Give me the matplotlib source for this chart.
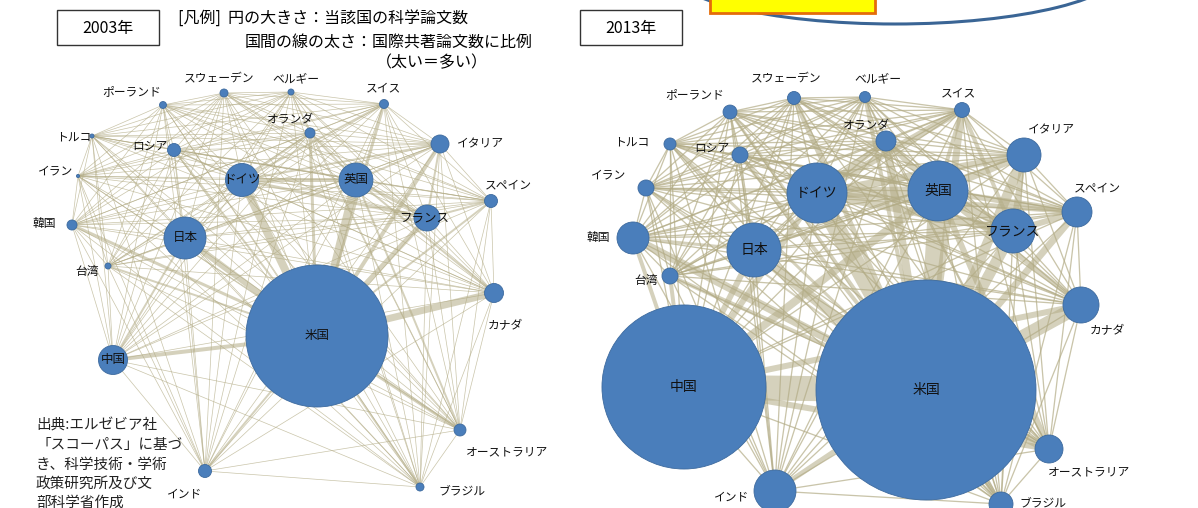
import itertools
import matplotlib.pyplot as plt
from matplotlib.patches import Circle, Ellipse, Rectangle

plt.rcParams['font.family'] = ['Noto Sans CJK JP', 'DejaVu Sans']

# countries in the network
countries = ['ポーランド', 'スウェーデン', 'ベルギー', 'スイス', 'オランダ', 'トルコ',
             'ロシア', 'イタリア', 'イラン', 'ドイツ', '英国', 'スペイン', 'フランス',
             '韓国', '日本', '台湾', 'カナダ', '米国', '中国', 'オーストラリア',
             'インド', 'ブラジル']

# circle area index (米国 = 100)
size_2003 = [0.24, 0.32, 0.18, 0.40, 0.50, 0.08, 0.84, 1.61, 0.05, 5.4, 5.7, 0.84,
             3.35, 0.50, 8.75, 0.18, 1.79, 100, 4.17, 0.71, 0.84, 0.32]
size_2013 = [0.40, 0.35, 0.25, 0.46, 0.83, 0.30, 0.53, 2.39, 0.53, 7.44, 7.44, 1.86,
             4.0, 2.12, 6.02, 0.53, 2.68, 100, 55.6, 1.62, 3.64, 1.19]

# co-authorship line thickness (relative), pairs not listed get the base value
base_2003 = 0.7
links_2003 = [('米国', 'ドイツ', 8), ('米国', '英国', 8), ('米国', '日本', 6),
              ('米国', 'カナダ', 7), ('米国', '中国', 4), ('米国', 'フランス', 5),
              ('米国', 'イタリア', 4), ('米国', 'オーストラリア', 3), ('米国', 'スイス', 3),
              ('米国', 'オランダ', 3), ('米国', 'スペイン', 2), ('米国', '韓国', 3),
              ('米国', '台湾', 2), ('米国', 'インド', 2), ('米国', 'ブラジル', 2),
              ('米国', 'ロシア', 2), ('ドイツ', '英国', 4), ('ドイツ', 'フランス', 3),
              ('英国', 'フランス', 3), ('ドイツ', 'スイス', 2), ('ドイツ', 'オランダ', 2),
              ('英国', 'オランダ', 2), ('ドイツ', 'イタリア', 2), ('英国', 'イタリア', 2),
              ('フランス', 'イタリア', 2), ('英国', 'オーストラリア', 2), ('英国', 'カナダ', 2),
              ('フランス', 'スペイン', 2), ('日本', '中国', 2), ('ドイツ', 'ロシア', 1.5)]

base_2013 = 1.3
links_2013 = [('米国', '中国', 25), ('米国', '英国', 18), ('米国', 'ドイツ', 18),
              ('米国', 'カナダ', 14), ('米国', 'フランス', 11), ('米国', '日本', 10),
              ('米国', 'イタリア', 10), ('米国', 'オーストラリア', 9), ('米国', '韓国', 8),
              ('米国', 'スペイン', 7), ('米国', 'オランダ', 8), ('米国', 'スイス', 7),
              ('米国', 'インド', 5), ('米国', 'ブラジル', 5), ('米国', '台湾', 4),
              ('米国', 'スウェーデン', 5), ('米国', 'ベルギー', 4), ('米国', 'ロシア', 4),
              ('米国', 'ポーランド', 3), ('米国', 'トルコ', 3), ('米国', 'イラン', 2),
              ('ドイツ', '英国', 10), ('ドイツ', 'フランス', 8), ('英国', 'フランス', 8),
              ('英国', 'イタリア', 7), ('ドイツ', 'イタリア', 7), ('フランス', 'イタリア', 6),
              ('ドイツ', 'スイス', 7), ('ドイツ', 'オランダ', 6), ('英国', 'オランダ', 6),
              ('英国', 'スペイン', 6), ('ドイツ', 'スペイン', 5), ('フランス', 'スペイン', 6),
              ('中国', '日本', 6), ('中国', '英国', 8), ('中国', 'ドイツ', 6),
              ('中国', 'オーストラリア', 6), ('中国', 'カナダ', 6), ('中国', '台湾', 4),
              ('中国', '韓国', 4), ('英国', 'オーストラリア', 6), ('英国', 'カナダ', 5),
              ('日本', '韓国', 3), ('英国', 'スイス', 4), ('フランス', 'スイス', 4)]

# layout of each panel (pixel positions of node centres, label offsets)
layout_2003 = {
    'ポーランド': (163, 105, -31, -13), 'スウェーデン': (224, 93, -5, -14),
    'ベルギー': (291, 92, 5, -13), 'スイス': (384, 104, -1, -16),
    'オランダ': (310, 133, -20, -14), 'トルコ': (92, 136, -18, 1),
    'ロシア': (174, 150, -24, -4), 'イタリア': (440, 144, 40, 0),
    'イラン': (78, 176, -22, -5), 'ドイツ': (242, 180, 0, 0),
    '英国': (356, 180, 0, 0), 'スペイン': (491, 201, 17, -16),
    'フランス': (427, 218, -3, 1), '韓国': (72, 225, -28, -1),
    '日本': (185, 238, 0, 0), '台湾': (108, 266, -21, 5),
    'カナダ': (494, 293, 11, 33), '米国': (317, 336, 0, 0),
    '中国': (113, 360, 0, 0), 'オーストラリア': (460, 430, 47, 22),
    'インド': (205, 471, -20, 23), 'ブラジル': (420, 487, 42, 4)}
layout_2013 = {
    'ポーランド': (730, 112, -35, -17), 'スウェーデン': (794, 98, -8, -19),
    'ベルギー': (865, 97, 13, -18), 'スイス': (962, 110, -4, -17),
    'オランダ': (886, 141, -20, -16), 'トルコ': (670, 144, -38, -2),
    'ロシア': (740, 155, -28, -7), 'イタリア': (1024, 155, 27, -25),
    'イラン': (646, 188, -37, -13), 'ドイツ': (817, 193, 0, 0),
    '英国': (938, 191, 0, 0), 'スペイン': (1077, 212, 20, -24),
    'フランス': (1013, 231, 0, 0), '韓国': (633, 238, -35, -1),
    '日本': (754, 250, 0, 0), '台湾': (670, 276, -24, 4),
    'カナダ': (1081, 305, 26, 26), '米国': (926, 390, 0, 0),
    '中国': (684, 387, 0, 0), 'オーストラリア': (1049, 449, 40, 23),
    'インド': (775, 491, -43, 6), 'ブラジル': (1001, 504, 42, -1)}

W, H = 1198, 508
fig = plt.figure(figsize=(W / 100, H / 100), dpi=100)
ax = fig.add_axes([0, 0, 1, 1])
ax.set_xlim(0, W)
ax.set_ylim(H, 0)
ax.set_aspect('equal')
ax.axis('off')

edge_col = '#B3AC86'
node_col = '#4A7EBB'


def draw_network(layout, sizes, links, base, r_us, inner_fs):
    weights = {}
    for a, b, w in links:
        weights[frozenset((a, b))] = w
    # thin lines for every pair first, thick ones on top
    pairs = list(itertools.combinations(countries, 2))
    pairs.sort(key=lambda p: weights.get(frozenset(p), base))
    for a, b in pairs:
        w = weights.get(frozenset((a, b)), base)
        xa, ya = layout[a][:2]
        xb, yb = layout[b][:2]
        ax.plot([xa, xb], [ya, yb], color=edge_col, lw=w * 0.72,
                alpha=0.55 if w > base else 0.7, solid_capstyle='butt', zorder=1)
    for name, s in zip(countries, sizes):
        x, y, dx, dy = layout[name]
        r = r_us * (s / 100) ** 0.5
        ax.add_patch(Circle((x, y), r, facecolor=node_col, edgecolor='#3D6A9E',
                            lw=0.6, zorder=3))
        inside = dx == 0 and dy == 0 or name == 'フランス'
        ax.text(x + dx, y + dy, name, fontsize=inner_fs if inside else 8.5,
                ha='center', va='center', color='#111111', zorder=4)


draw_network(layout_2003, size_2003, links_2003, base_2003, 71, 9)
draw_network(layout_2013, size_2013, links_2013, base_2013, 110, 10)

# year boxes
for x0, label in [(57, '2003年'), (580, '2013年')]:
    ax.add_patch(Rectangle((x0, 10), 102, 35, facecolor='white', edgecolor='#333333',
                           lw=1, zorder=5))
    ax.text(x0 + 51, 28, label, fontsize=11.5, ha='center', va='center', zorder=6)

# legend text
ax.text(178, 18, '[凡例]  円の大きさ：当該国の科学論文数', fontsize=11.5,
        ha='left', va='center', zorder=6)
ax.text(245, 42, '国間の線の太さ：国際共著論文数に比例', fontsize=11.5,
        ha='left', va='center', zorder=6)
ax.text(432, 63, '（太い＝多い）', fontsize=11.5, ha='center', va='center', zorder=6)

# source note
source_lines = ['出典:エルゼビア社', '「スコーパス」に基づ', 'き、科学技術・学術',
                '政策研究所及び文', '部科学省作成']
for i, line in enumerate(source_lines):
    ax.text(36, 426 + i * 19.3, line, fontsize=10.5, ha='left', va='center',
            color='#222222', zorder=6)

# cut-off callout at the top right
ax.add_patch(Ellipse((895, -33), 460, 114, facecolor='white', edgecolor='#3A6595',
                     lw=2.2, zorder=5))
ax.add_patch(Rectangle((710, -20), 165, 33, facecolor='#FFFF00', edgecolor='#E46C0A',
                       lw=2, zorder=6))

fig.savefig('out.png', dpi=100, facecolor='white')
